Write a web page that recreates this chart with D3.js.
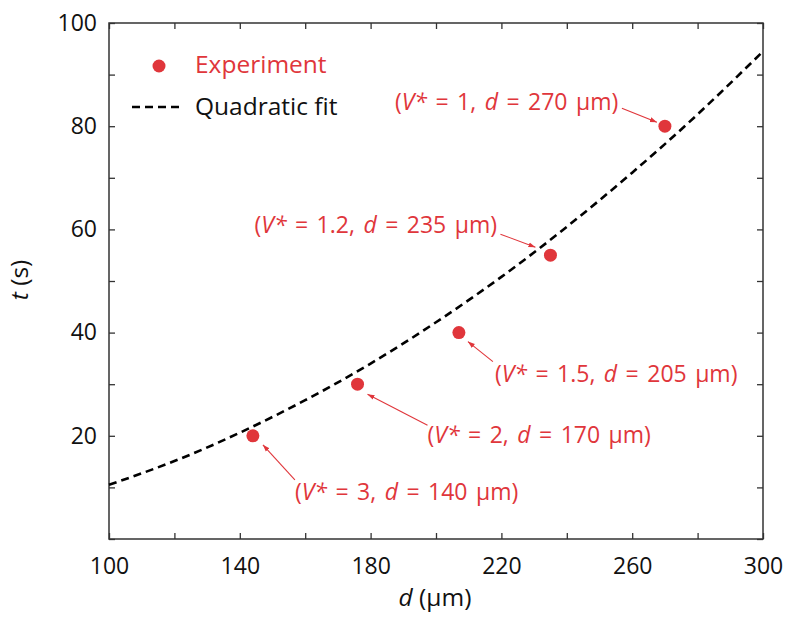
<!DOCTYPE html>
<html>
<head>
<meta charset="utf-8">
<script src="https://cdn.jsdelivr.net/npm/d3@7"></script>
<style>
  body { margin: 0; background: #fff; }
  svg text { font-family: "Open Sans", "DejaVu Sans", sans-serif; }
</style>
</head>
<body>
<div id="chart"></div>
<script>
// Experimental points: droplet size d (um) vs time t (s)
const dValues = [144, 176, 207, 235, 270];
const tValues = [20, 30, 40, 55, 80];
const vStar = ["3", "2", "1.5", "1.2", "1"];
const dLabels = ["140", "170", "205", "235", "270"];

// Quadratic fit curve
const fitD = [100, 120, 140, 160, 180, 200, 220, 240, 260, 280, 300];
const fitT = [10.5, 15.1, 20.6, 26.9, 34.0, 42.0, 50.8, 60.5, 71.0, 82.3, 94.5];

const xTicks = [100, 120, 140, 160, 180, 200, 220, 240, 260, 280, 300];
const xTickLabels = [100, 140, 180, 220, 260, 300];
const yTicks = [0, 10, 20, 30, 40, 50, 60, 70, 80, 90, 100];
const yTickLabels = [20, 40, 60, 80, 100];

const red = "#e0363b";
const W = 788, H = 619;
const plotL = 109, plotR = 763, plotT = 23, plotB = 539;

const svg = d3.select("#chart").append("svg")
  .attr("width", W).attr("height", H);

const x = d3.scaleLinear().domain([100, 300]).range([plotL, plotR]);
const y = d3.scaleLinear().domain([0, 100]).range([plotB, plotT]);

// arrow marker
svg.append("defs").append("marker")
  .attr("id", "arrow")
  .attr("viewBox", "0 0 10 10")
  .attr("refX", 10).attr("refY", 5)
  .attr("markerWidth", 7).attr("markerHeight", 7)
  .attr("markerUnits", "userSpaceOnUse")
  .attr("orient", "auto")
  .append("path")
  .attr("d", "M0,1.5 L10,5 L0,8.5 Z")
  .attr("fill", red);

// axes (inward ticks on all sides)
const tickFmtX = d => xTickLabels.includes(d) ? d : "";
const tickFmtY = d => yTickLabels.includes(d) ? d : "";

function styleAxis(g) {
  g.select(".domain").remove();
  g.selectAll(".tick line").attr("stroke", "#333").attr("stroke-width", 1.3);
  g.selectAll(".tick text").attr("fill", "#111").attr("font-size", 23)
    .attr("font-family", "'Open Sans', 'DejaVu Sans', sans-serif");
}

svg.append("g")
  .attr("transform", `translate(0,${plotB})`)
  .call(d3.axisBottom(x).tickValues(xTicks).tickSize(-6).tickPadding(19).tickFormat(tickFmtX))
  .call(styleAxis);

svg.append("g")
  .attr("transform", `translate(0,${plotT})`)
  .call(d3.axisTop(x).tickValues(xTicks).tickSize(-6).tickFormat(""))
  .call(styleAxis);

svg.append("g")
  .attr("transform", `translate(${plotL},0)`)
  .call(d3.axisLeft(y).tickValues(yTicks).tickSize(-6).tickPadding(12).tickFormat(tickFmtY))
  .call(styleAxis);

svg.append("g")
  .attr("transform", `translate(${plotR},0)`)
  .call(d3.axisRight(y).tickValues(yTicks).tickSize(-6).tickFormat(""))
  .call(styleAxis);

// frame
svg.append("rect")
  .attr("x", plotL).attr("y", plotT)
  .attr("width", plotR - plotL).attr("height", plotB - plotT)
  .attr("fill", "none").attr("stroke", "#333").attr("stroke-width", 1.5);

// axis titles
const xTitle = svg.append("text")
  .attr("x", 435).attr("y", 606)
  .attr("text-anchor", "middle").attr("font-size", 24.5).attr("fill", "#111");
xTitle.append("tspan").attr("font-style", "italic").text("d");
xTitle.append("tspan").text(" (μm)");

const yTitle = svg.append("text")
  .attr("transform", "translate(28,280) rotate(-90)")
  .attr("text-anchor", "middle").attr("font-size", 24.5).attr("fill", "#111");
yTitle.append("tspan").attr("font-style", "italic").text("t");
yTitle.append("tspan").text(" (s)");

// fit curve
const fitData = fitD.map((d, i) => ({ d, t: fitT[i] }));
const line = d3.line()
  .x(p => x(p.d)).y(p => y(p.t))
  .curve(d3.curveNatural);

const plot = svg.append("g");
plot.append("path")
  .datum(fitData)
  .attr("d", line)
  .attr("fill", "none")
  .attr("stroke", "#000")
  .attr("stroke-width", 2.6)
  .attr("stroke-dasharray", "8,5");

// points
const pts = dValues.map((d, i) => ({ d, t: tValues[i], v: vStar[i], dl: dLabels[i] }));
plot.selectAll("circle.pt")
  .data(pts)
  .join("circle")
  .attr("class", "pt")
  .attr("cx", p => x(p.d)).attr("cy", p => y(p.t))
  .attr("r", 6.5)
  .attr("fill", red);

// annotation layout (pixel offsets relative to each point)
const labelOffset = [[42, 64], [70, 59], [36, 49], [-296, -22], [-270, -16]];
const arrowFrom = [[42, 44], [70, 41], [34, 29], [-50, -21], [-43, -18]];
const arrowTo = [[10, 9], [10, 10], [9, 9], [-15, -8], [-8, -4]];

pts.forEach((p, i) => {
  const px = x(p.d), py = y(p.t);
  plot.append("line")
    .attr("x1", px + arrowFrom[i][0]).attr("y1", py + arrowFrom[i][1])
    .attr("x2", px + arrowTo[i][0]).attr("y2", py + arrowTo[i][1])
    .attr("stroke", red).attr("stroke-width", 1.1)
    .attr("marker-end", "url(#arrow)");

  const t = plot.append("text")
    .attr("x", px + labelOffset[i][0]).attr("y", py + labelOffset[i][1])
    .attr("font-size", 23).attr("fill", red)
    .attr("word-spacing", 2.5);
  t.append("tspan").text("(");
  t.append("tspan").attr("font-style", "italic").text("V*");
  t.append("tspan").text(" = " + p.v + ", ");
  t.append("tspan").attr("font-style", "italic").text("d");
  t.append("tspan").text(" = " + p.dl + " μm)");
});

// legend
const legend = svg.append("g");
legend.append("circle")
  .attr("cx", 159).attr("cy", 66).attr("r", 6.5).attr("fill", red);
legend.append("text")
  .attr("x", 195).attr("y", 73)
  .attr("font-size", 24.5).attr("fill", red)
  .text("Experiment");
legend.append("line")
  .attr("x1", 132).attr("x2", 184).attr("y1", 107).attr("y2", 107)
  .attr("stroke", "#000").attr("stroke-width", 2.6)
  .attr("stroke-dasharray", "8,5");
legend.append("text")
  .attr("x", 195).attr("y", 115)
  .attr("font-size", 24.5).attr("fill", "#111")
  .text("Quadratic fit");
</script>
</body>
</html>
